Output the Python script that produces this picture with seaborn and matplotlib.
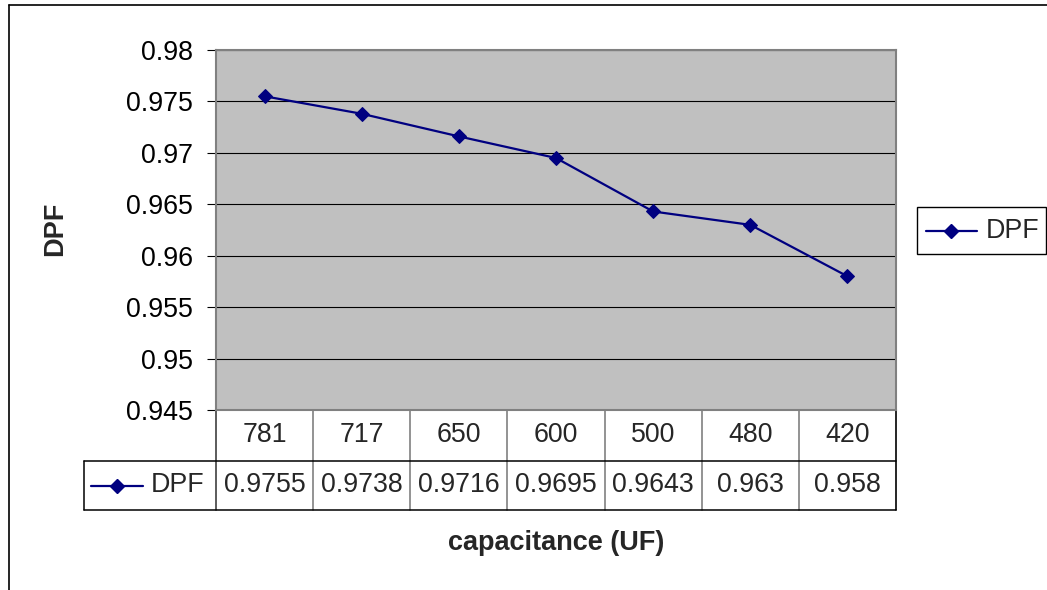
import numpy as np
import pandas as pd
import matplotlib
matplotlib.use("Agg")
import matplotlib.pyplot as plt
from matplotlib.lines import Line2D
from matplotlib.patches import Rectangle
from matplotlib.ticker import FuncFormatter
import seaborn as sns

# Data
capacitance = ["781", "717", "650", "600", "500", "480", "420"]
dpf = [0.9755, 0.9738, 0.9716, 0.9695, 0.9643, 0.963, 0.958]
series_name = "DPF"
y_ticks = [0.945, 0.95, 0.955, 0.96, 0.965, 0.97, 0.975, 0.98]
x_title = "capacitance (UF)"
y_title = "DPF"

W, H = 1047, 590
sns.set_style("white")
plt.rcParams["font.family"] = ["Liberation Sans", "DejaVu Sans"]

NAVY = "#000080"
GRAY = "#808080"
FS = 19.3
FS_TITLE = 19.5
MS = 7.2

fig = plt.figure(figsize=(W / 100, H / 100), dpi=100)


def fx(px):
    return px / W


def fy(py):
    return 1 - py / H


# plot area box in pixels
L, R, T, B = 216, 896, 50, 410
ax = fig.add_axes([fx(L), fy(B), (R - L) / W, (B - T) / H])
ax.set_facecolor("#C0C0C0")

df = pd.DataFrame({"pos": np.arange(len(capacitance)),
                   "capacitance": capacitance,
                   series_name: dpf})
sns.lineplot(data=df, x="pos", y=series_name, ax=ax, color=NAVY, lw=1.6,
             marker="D", markersize=MS, markeredgecolor=NAVY,
             errorbar=None, legend=False, zorder=3)

ax.set_xlim(-0.5, len(capacitance) - 0.5)
ax.set_ylim(y_ticks[0], y_ticks[-1])
ax.set_yticks(y_ticks)
ax.yaxis.set_major_formatter(FuncFormatter(lambda v, p: f"{round(v, 4):g}"))
ax.set_xticks([])
ax.set_xlabel("")
ax.set_ylabel("")
ax.set_axisbelow(True)
ax.yaxis.grid(True, color="black", lw=0.8)
ax.xaxis.grid(False)
ax.tick_params(axis="y", left=True, direction="out", length=6.5, width=0.8,
               color="black", pad=10, labelsize=FS, labelcolor="black")
for s in ax.spines.values():
    s.set_visible(True)
    s.set_color(GRAY)
    s.set_linewidth(1.5)

# Data table under the plot area
n = len(capacitance)
span = B - T
h1 = (461 - B) / span
h2 = (510 - B) / span
xtr = ax.get_xaxis_transform()
for i, (c, v) in enumerate(zip(capacitance, dpf)):
    ax.text(i, -h1 / 2, c, transform=xtr, ha="center", va="center",
            fontsize=FS, clip_on=False)
    ax.text(i, -(h1 + h2) / 2, f"{v:g}", transform=xtr, ha="center",
            va="center", fontsize=FS, clip_on=False)
for i in range(1, n):
    ax.plot([i - 0.5, i - 0.5], [0, -h2], transform=xtr, color=GRAY,
            lw=1.2, clip_on=False)
ax.plot([-0.5, -0.5], [0, -h2], transform=xtr, color="#404040", lw=1.2,
        clip_on=False)
ax.plot([n - 0.5, n - 0.5], [0, -h2], transform=xtr, color="black", lw=1.2,
        clip_on=False)
left_cell = (84 - L) / (R - L)
for yy in (-h1, -h2):
    ax.plot([left_cell, 1], [yy, yy], transform=ax.transAxes, color="black",
            lw=1.1, clip_on=False)
ax.plot([left_cell, left_cell], [-h1, -h2], transform=ax.transAxes,
        color="black", lw=1.1, clip_on=False)

# legend key inside the table's row header
ky = fy(485.5)
fig.add_artist(Line2D([fx(91), fx(143)], [ky, ky], color=NAVY, lw=1.6))
fig.add_artist(Line2D([fx(117)], [ky], color=NAVY, marker="D", markersize=MS,
                      markeredgecolor=NAVY))
fig.text(fx(151), ky, series_name, ha="left", va="center", fontsize=FS)

# legend box on the right
fig.add_artist(Rectangle((fx(917), fy(254)), fx(1046) - fx(917),
                         fy(207) - fy(254), transform=fig.transFigure,
                         facecolor="white", edgecolor="black", lw=1))
ly = fy(230.5)
fig.add_artist(Line2D([fx(926), fx(977)], [ly, ly], color=NAVY, lw=1.6))
fig.add_artist(Line2D([fx(951)], [ly], color=NAVY, marker="D", markersize=MS,
                      markeredgecolor=NAVY))
fig.text(fx(986), ly, series_name, ha="left", va="center", fontsize=FS)

# axis titles
fig.text(fx(55), fy(229), y_title, rotation=90, ha="center", va="center",
         fontsize=FS_TITLE, fontweight="bold")
fig.text(fx(556), fy(543), x_title, ha="center", va="center",
         fontsize=FS_TITLE, fontweight="bold")

# chart frame
fig.add_artist(Line2D([fx(9), 1], [fy(5), fy(5)], color="black", lw=1.2))
fig.add_artist(Line2D([fx(9), fx(9)], [fy(5), 0], color="black", lw=1.2))

fig.savefig("out.png", dpi=100)
